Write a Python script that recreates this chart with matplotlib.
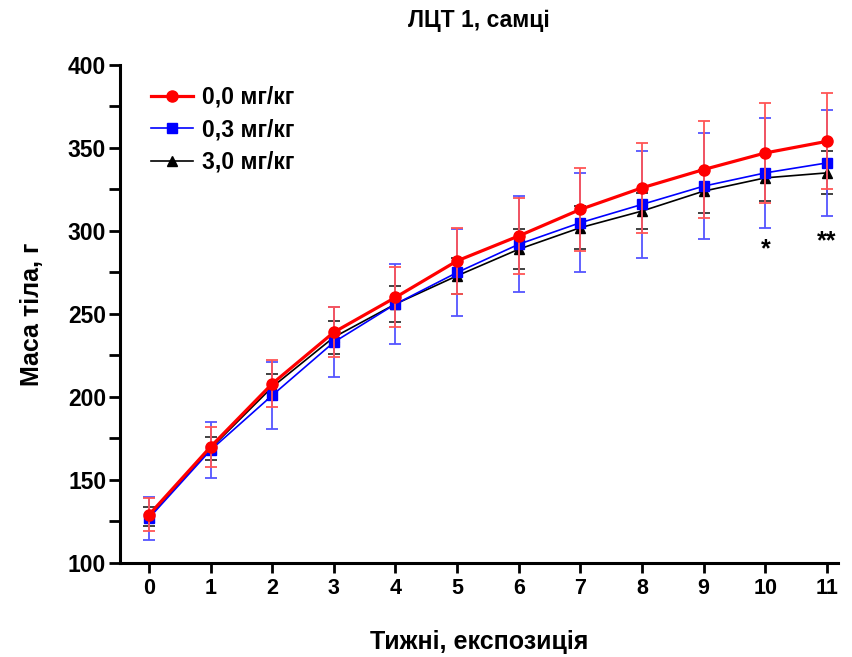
import matplotlib
matplotlib.use("Agg")
import matplotlib.pyplot as plt
from matplotlib.ticker import MultipleLocator
from matplotlib.lines import Line2D

plt.rcParams['font.family'] = ['Liberation Sans', 'DejaVu Sans']
plt.rcParams['font.weight'] = 'bold'

weeks = [0, 1, 2, 3, 4, 5, 6, 7, 8, 9, 10, 11]

mean_00 = [129, 170, 208, 239, 260, 282, 297, 313, 326, 337, 347, 354]
sd_00 = [10, 12, 14, 15, 18, 20, 23, 25, 27, 29, 30, 29]

mean_03 = [127, 168, 201, 233, 256, 275, 292, 305, 316, 327, 335, 341]
sd_03 = [13, 17, 20, 21, 24, 26, 29, 30, 32, 32, 33, 32]

mean_30 = [128, 169, 206, 236, 256, 273, 289, 302, 312, 324, 332, 335]
sd_30 = [6, 7, 8, 10, 11, 11, 12, 13, 11, 13, 14, 13]

labels = ['0,0 мг/кг', '0,3 мг/кг', '3,0 мг/кг']
signif_weeks = [10, 11]
signif_marks = ['*', '**']
signif_y = [289, 294]

fig = plt.figure(figsize=(8.53, 6.57), dpi=100)
ax = fig.add_axes([0.1407, 0.1431, 0.8417, 0.7580])

styles = [
    dict(color='#ff0000', ecolor='#ff5555', lw=2.3, marker='o', ms=8, z=5),
    dict(color='#0000ff', ecolor='#5555ff', lw=1.2, marker='s', ms=7.5, z=4),
    dict(color='black', ecolor='#333333', lw=1.2, marker='^', ms=7, z=3),
]
series = [(mean_00, sd_00), (mean_03, sd_03), (mean_30, sd_30)]

handles = []
for (m, sd), st, lab in zip(series, styles, labels):
    ax.errorbar(weeks, m, yerr=sd, color=st['color'], ecolor=st['ecolor'],
                lw=st['lw'], elinewidth=1.3, capsize=4, capthick=1.3,
                marker=st['marker'], markersize=st['ms'], zorder=st['z'])
    handles.append(Line2D([], [], color=st['color'], lw=st['lw'],
                          marker=st['marker'], markersize=st['ms'], label=lab))

for w, mk, yv in zip(signif_weeks, signif_marks, signif_y):
    ax.text(w, yv, mk, ha='center', va='center', fontsize=18, fontweight='bold')

ax.set_xlim(-0.47, 11.18)
ax.set_ylim(100, 400)
ax.set_xticks(weeks)
ax.yaxis.set_major_locator(MultipleLocator(50))
ax.yaxis.set_minor_locator(MultipleLocator(25))

for s in ['top', 'right']:
    ax.spines[s].set_visible(False)
for s in ['left', 'bottom']:
    ax.spines[s].set_linewidth(2.2)

ax.tick_params(axis='y', which='major', length=8, width=2, labelsize=16.5, pad=2)
ax.tick_params(axis='y', which='minor', length=8, width=2)
ax.tick_params(axis='x', which='major', length=7, width=2, labelsize=15.5, pad=4)
for lab in ax.get_xticklabels() + ax.get_yticklabels():
    lab.set_fontweight('bold')

ax.set_xlabel('Тижні, експозиція', fontsize=18, fontweight='bold', labelpad=22)
ax.set_ylabel('Маса тіла, г', fontsize=18, fontweight='bold', labelpad=17)
ax.set_title('ЛЦТ 1, самці', fontsize=16.5, fontweight='bold', pad=27)

leg = ax.legend(handles=handles, loc='upper left', bbox_to_anchor=(0.015, 1.0),
                frameon=False, fontsize=16.5, handlelength=1.8, labelspacing=0.42,
                handletextpad=0.4)
for t in leg.get_texts():
    t.set_fontweight('bold')

fig.savefig('out.png', dpi=100)
